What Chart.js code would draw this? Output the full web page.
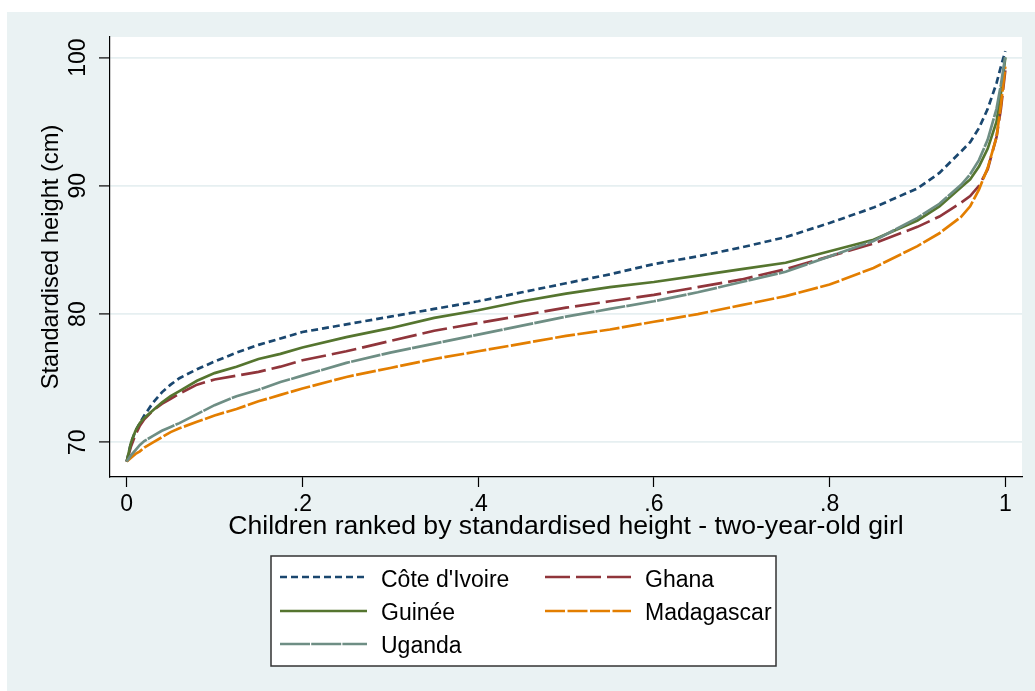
<!DOCTYPE html>
<html>
<head>
<meta charset="utf-8">
<script src="https://cdn.jsdelivr.net/npm/chart.js@4.4.1/dist/chart.umd.min.js"></script>
<style>
  body { margin: 0; background: #ffffff; }
  #wrap { position: absolute; left: 7px; top: 12px; width: 1028px; height: 679px; background: #eaf2f3; }
</style>
</head>
<body>
<div id="wrap"><canvas id="myChart" width="1028" height="679"></canvas></div>
<script>
// rank of child (share of children)
var xRank = [0, 0.005, 0.01, 0.015, 0.02, 0.03, 0.04, 0.05, 0.06, 0.08, 0.1, 0.125, 0.15, 0.175, 0.2,
  0.25, 0.3, 0.35, 0.4, 0.45, 0.5, 0.55, 0.6, 0.65, 0.7, 0.75, 0.8, 0.85, 0.9, 0.925, 0.95,
  0.96, 0.97, 0.98, 0.99, 0.995, 1];

// standardised height (cm)
var coteDIvoire = [68.5, 70.0, 70.9, 71.5, 72.1, 73.1, 73.9, 74.5, 75.0, 75.7, 76.3, 77.0, 77.6, 78.1, 78.6,
  79.2, 79.8, 80.4, 81.0, 81.7, 82.4, 83.1, 83.9, 84.5, 85.2, 86.0, 87.1, 88.3, 89.8, 91.0, 92.7,
  93.4, 94.5, 96.0, 98.0, 99.3, 100.5];
var ghana = [68.5, 69.7, 70.6, 71.3, 71.8, 72.5, 73.0, 73.4, 73.8, 74.5, 74.9, 75.2, 75.5, 75.9, 76.4,
  77.1, 77.9, 78.7, 79.3, 79.9, 80.5, 81.0, 81.5, 82.1, 82.7, 83.5, 84.5, 85.5, 86.8, 87.6, 88.7,
  89.2, 90.0, 91.3, 93.8, 96.0, 99.0];
var guinee = [68.5, 70.0, 70.9, 71.5, 71.9, 72.5, 73.1, 73.6, 74.0, 74.8, 75.4, 75.9, 76.5, 76.9, 77.4,
  78.2, 78.9, 79.7, 80.3, 81.0, 81.6, 82.1, 82.5, 83.0, 83.5, 84.0, 84.9, 85.8, 87.3, 88.4, 89.9,
  90.5, 91.5, 92.9, 95.0, 97.2, 100.0];
var madagascar = [68.5, 68.8, 69.1, 69.3, 69.6, 70.0, 70.4, 70.8, 71.1, 71.6, 72.1, 72.6, 73.2, 73.7, 74.2,
  75.1, 75.8, 76.5, 77.1, 77.7, 78.3, 78.8, 79.4, 80.0, 80.7, 81.4, 82.3, 83.6, 85.3, 86.3, 87.6,
  88.4, 89.7, 91.4, 93.8, 96.3, 99.3];
var uganda = [68.5, 69.0, 69.4, 69.8, 70.1, 70.5, 70.9, 71.2, 71.5, 72.2, 72.9, 73.6, 74.1, 74.7, 75.2,
  76.2, 77.0, 77.7, 78.4, 79.1, 79.8, 80.4, 81.0, 81.7, 82.5, 83.3, 84.5, 85.7, 87.5, 88.6, 90.1,
  90.9, 92.0, 93.6, 96.0, 97.9, 100.1];

var seriesNames = ["Côte d'Ivoire", 'Ghana', 'Guinée', 'Madagascar', 'Uganda'];
var seriesValues = [coteDIvoire, ghana, guinee, madagascar, uganda];
var seriesColors = ['#1a476f', '#90353b', '#55752f', '#e37e00', '#6e8e84'];
var seriesDash = [[7, 4], [25, 6], [], [20, 2.5], [30, 1.2]];

var xTicks = [0, 0.2, 0.4, 0.6, 0.8, 1];
var xTickLabels = ['0', '.2', '.4', '.6', '.8', '1'];
var yTicks = [70, 80, 90, 100];

var FONT = '"Liberation Sans", Arial, sans-serif';

var datasets = seriesNames.map(function(name, i) {
    return {
        label: name,
        data: xRank.map(function(x, j) { return { x: x, y: seriesValues[i][j] }; }),
        borderColor: seriesColors[i],
        borderDash: seriesDash[i],
        borderWidth: 2.7,
        pointRadius: 0,
        tension: 0,
        fill: false,
        order: seriesNames.length - i
    };
});

// white plot region
var plotBg = {
    id: 'plotBg',
    beforeDraw: function(chart) {
        var a = chart.chartArea;
        var ctx = chart.ctx;
        ctx.save();
        ctx.fillStyle = '#ffffff';
        ctx.fillRect(a.left, a.top, a.right - a.left, a.bottom - a.top);
        ctx.restore();
    }
};

// boxed two column legend like Stata
var boxLegend = {
    id: 'boxLegend',
    afterDraw: function(chart) {
        var ctx = chart.ctx;
        ctx.save();
        ctx.fillStyle = '#ffffff';
        ctx.fillRect(264, 544, 505, 110);
        ctx.strokeStyle = '#333333';
        ctx.lineWidth = 1.5;
        ctx.strokeRect(264, 544, 505, 110);
        var cols = [{ x0: 273, x1: 360, tx: 374 }, { x0: 538, x1: 624, tx: 638 }];
        var rows = [{ ly: 565, ty: 575 }, { ly: 599, ty: 608 }, { ly: 632, ty: 641 }];
        ctx.font = '23px ' + FONT;
        ctx.textBaseline = 'alphabetic';
        ctx.textAlign = 'left';
        chart.data.datasets.forEach(function(ds, i) {
            var c = cols[i % 2], r = rows[Math.floor(i / 2)];
            ctx.strokeStyle = ds.borderColor;
            ctx.lineWidth = ds.borderWidth;
            ctx.setLineDash(ds.borderDash);
            ctx.beginPath();
            ctx.moveTo(c.x0, r.ly);
            ctx.lineTo(c.x1, r.ly);
            ctx.stroke();
            ctx.setLineDash([]);
            ctx.fillStyle = '#000000';
            ctx.fillText(ds.label, c.tx, r.ty);
        });
        ctx.restore();
    }
};

var ctx = document.getElementById('myChart').getContext('2d');
var myChart = new Chart(ctx, {
    type: 'line',
    data: { datasets: datasets },
    plugins: [plotBg, boxLegend],
    options: {
        responsive: false,
        animation: false,
        layout: { padding: { left: 30, top: 25, right: 13, bottom: 148 } },
        plugins: { legend: { display: false }, tooltip: { enabled: false } },
        scales: {
            x: {
                type: 'linear',
                min: -0.019,
                max: 1.019,
                afterBuildTicks: function(scale) {
                    scale.ticks = xTicks.map(function(v) { return { value: v }; });
                },
                afterFit: function(scale) { scale.height = 66; },
                ticks: {
                    color: '#000',
                    font: { family: FONT, size: 23 },
                    padding: 4,
                    maxRotation: 0,
                    callback: function(v) { return xTickLabels[xTicks.indexOf(v)]; }
                },
                grid: { drawOnChartArea: false, tickColor: '#000', tickLength: 10, tickWidth: 1.2 },
                border: { display: true, color: '#000', width: 1.2 },
                title: {
                    display: true,
                    text: 'Children ranked by standardised height - two-year-old girl',
                    color: '#000',
                    font: { family: FONT, size: 26.6 },
                    padding: { top: 0, bottom: 0 }
                }
            },
            y: {
                type: 'linear',
                min: 67.3,
                max: 101.6,
                afterBuildTicks: function(scale) {
                    scale.ticks = yTicks.map(function(v) { return { value: v }; });
                },
                afterFit: function(scale) { scale.width = 73; },
                ticks: {
                    color: '#000',
                    font: { family: FONT, size: 23 },
                    padding: 1,
                    minRotation: 90,
                    maxRotation: 90,
                    crossAlign: 'center'
                },
                grid: { color: '#e6eff1', lineWidth: 1.8, tickColor: '#000', tickLength: 11, tickWidth: 1.2 },
                border: { display: true, color: '#000', width: 1.2 },
                title: {
                    display: true,
                    text: 'Standardised height (cm)',
                    color: '#000',
                    font: { family: FONT, size: 23.7 },
                    padding: { top: 0, bottom: 0 }
                }
            }
        }
    }
});
</script>
</body>
</html>
